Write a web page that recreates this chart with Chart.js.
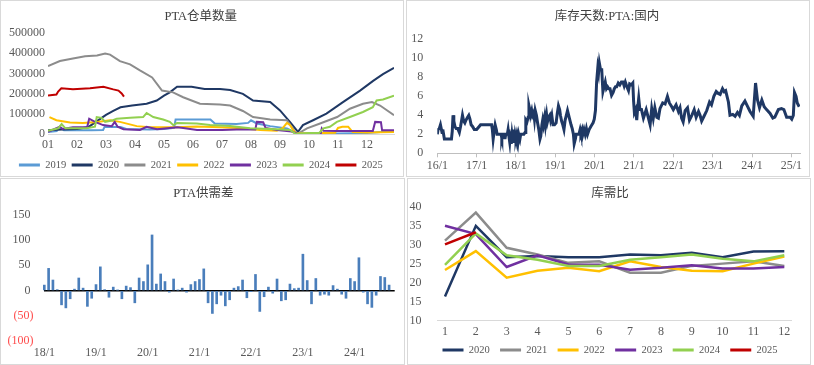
<!DOCTYPE html>
<html>
<head>
<meta charset="utf-8">
<script src="https://cdn.jsdelivr.net/npm/chart.js@4.4.1/dist/chart.umd.min.js"></script>
<style>
  html, body { margin: 0; padding: 0; background: #fff; }
  body { width: 814px; height: 365px; position: relative; overflow: hidden; }
  .frame { position: absolute; border: 1px solid #d9d9d9; box-sizing: border-box; }
  canvas { position: absolute; }
</style>
</head>
<body>
<div class="frame" style="left:0;top:0;width:404px;height:177px"></div>
<div class="frame" style="left:406px;top:0;width:404px;height:177px"></div>
<div class="frame" style="left:0;top:178px;width:405px;height:187px"></div>
<div class="frame" style="left:407px;top:178px;width:404px;height:187px"></div>

<canvas id="c1" width="404" height="181" style="left:0;top:0"></canvas>
<canvas id="c2" width="404" height="177" style="left:406px;top:0"></canvas>
<canvas id="c3" width="405" height="187" style="left:0;top:178px"></canvas>
<canvas id="c4" width="404" height="188" style="left:406px;top:178px"></canvas>

<script>
// ---------- panel 1: PTA仓单数量 (x = month of year, y = lots) ----------
const monthTicks = [1, 2, 3, 4, 5, 6, 7, 8, 9, 10, 11, 12];
const monthLabels = ["01", "02", "03", "04", "05", "06", "07", "08", "09", "10", "11", "12"];

const w2019 = [[1.00,10000],[1.30,15000],[1.40,35000],[1.55,18000],[2.00,18000],[2.50,18000],[2.90,20000],[2.95,35000],[3.50,35000],[3.70,25000],[4.50,22000],[5.00,25000],[5.35,30000],[5.40,72000],[6.60,72000],[6.75,52000],[7.50,50000],[7.90,55000],[8.00,68000],[8.20,52000],[8.66,39000],[9.24,28000],[9.55,5000],[10.00,2000],[11.00,3000],[12.00,5000],[12.93,15000]];
const w2020 = [[1.00,18000],[1.50,22000],[2.00,25000],[2.40,35000],[2.70,65000],[3.00,95000],[3.25,115000],[3.50,132000],[3.90,141000],[4.40,150000],[4.75,166000],[5.00,190000],[5.20,206000],[5.45,234000],[5.95,234000],[6.40,223000],[6.93,223000],[7.28,218000],[7.72,199000],[8.07,166000],[8.66,158000],[9.00,117000],[9.34,60000],[9.62,11000],[9.79,44000],[10.14,68000],[10.60,101000],[11.17,158000],[11.76,215000],[12.21,263000],[12.55,296000],[12.93,328000]];
const w2021 = [[1.00,336000],[1.41,361000],[1.86,374000],[2.28,385000],[2.69,389000],[2.97,398000],[3.14,393000],[3.48,361000],[3.83,345000],[4.17,315000],[4.59,280000],[4.93,215000],[5.31,206000],[5.66,182000],[6.24,150000],[6.93,146000],[7.28,141000],[7.72,114000],[8.07,84000],[8.66,72000],[9.24,68000],[9.52,11000],[9.62,2000],[9.93,28000],[10.38,52000],[10.97,84000],[11.41,125000],[11.86,150000],[12.17,158000],[12.45,141000],[12.93,93000]];
const w2022 = [[1.05,84000],[1.29,68000],[1.76,57000],[2.20,55000],[2.69,60000],[3.14,68000],[3.48,60000],[4.06,39000],[4.52,33000],[5.40,33000],[6.13,37000],[6.93,33000],[7.72,28000],[8.31,20000],[8.89,16000],[9.10,30000],[9.24,55000],[9.35,44000],[9.45,20000],[9.55,3000],[10.00,4000],[10.50,5000],[10.90,6000],[11.00,30000],[11.15,36000],[11.35,36000],[11.50,10000],[12.00,8000],[12.93,10000]];
const w2023 = [[1.00,11000],[1.41,36000],[1.50,25000],[1.86,33000],[2.35,33000],[2.42,76000],[2.62,60000],[2.90,44000],[3.20,39000],[3.30,60000],[3.40,36000],[3.60,24000],[4.17,20000],[4.40,36000],[4.76,24000],[5.45,33000],[5.66,30000],[6.14,20000],[7.00,20000],[7.50,22000],[8.15,22000],[8.20,60000],[8.42,58000],[8.50,30000],[8.90,20000],[9.40,12000],[9.60,0],[10.40,0],[10.44,28000],[10.50,16000],[11.00,15000],[12.20,15000],[12.28,60000],[12.48,58000],[12.52,18000],[12.93,18000]];
const w2024 = [[1.00,16000],[1.35,28000],[1.47,49000],[1.60,28000],[2.33,28000],[2.62,36000],[2.68,84000],[2.85,80000],[2.97,60000],[3.24,68000],[3.37,76000],[3.83,80000],[4.28,84000],[4.40,104000],[4.63,84000],[4.97,72000],[5.20,60000],[5.32,44000],[5.45,54000],[6.13,52000],[6.59,44000],[7.28,39000],[7.97,28000],[8.89,24000],[9.34,20000],[9.55,0],[10.00,5000],[10.35,5000],[10.50,28000],[10.72,36000],[10.96,60000],[11.41,84000],[11.86,109000],[12.20,133000],[12.33,166000],[12.55,171000],[12.93,190000]];
const w2025 = [[1.00,190000],[1.29,195000],[1.35,210000],[1.46,226000],[1.86,221000],[2.45,226000],[2.91,234000],[3.25,221000],[3.43,215000],[3.54,201000],[3.62,185000]];

// ---------- panel 2: 库存天数 (x = years after 2016/1, y = days) ----------
const yearTicks2 = [0, 1, 2, 3, 4, 5, 6, 7, 8, 9];
const yearLabels2 = ["16/1", "17/1", "18/1", "19/1", "20/1", "21/1", "22/1", "23/1", "24/1", "25/1"];
const stockDays = [[0.00,2.0],[0.02,2.5],[0.05,2.6],[0.08,3.0],[0.10,2.6],[0.12,2.2],[0.14,2.5],[0.16,2.0],[0.18,1.5],[0.36,1.5],[0.38,2.3],[0.40,4.0],[0.42,3.4],[0.45,2.8],[0.48,2.6],[0.52,2.6],[0.56,2.2],[0.59,2.8],[0.62,3.5],[0.64,4.0],[0.67,3.4],[0.70,3.2],[0.73,3.5],[0.77,3.8],[0.80,4.0],[0.83,3.6],[0.86,3.0],[0.90,2.8],[0.94,2.5],[1.00,2.5],[1.06,2.8],[1.10,3.0],[1.38,3.0],[1.40,2.5],[1.42,1.5],[1.45,2.5],[1.47,3.0],[1.50,2.5],[1.52,2.0],[1.62,2.0],[1.64,1.6],[1.66,2.0],[1.70,2.0],[1.72,1.5],[1.74,2.0],[1.78,2.0],[1.80,2.5],[1.82,1.8],[1.84,1.2],[1.86,2.3],[1.88,1.0],[1.90,2.0],[1.92,1.4],[1.94,2.5],[1.96,1.1],[1.98,2.0],[2.00,1.6],[2.02,2.0],[2.05,1.2],[2.07,2.0],[2.10,1.5],[2.12,2.0],[2.20,2.0],[2.23,2.2],[2.25,3.5],[2.28,3.3],[2.31,3.8],[2.33,5.0],[2.35,4.6],[2.37,4.0],[2.40,4.5],[2.42,4.0],[2.45,4.3],[2.47,3.6],[2.49,4.5],[2.52,4.0],[2.55,3.2],[2.58,2.5],[2.61,1.5],[2.63,1.8],[2.66,3.0],[2.68,3.5],[2.70,3.0],[2.73,3.8],[2.75,3.0],[2.78,4.0],[2.80,3.3],[2.83,3.8],[2.86,4.0],[2.88,3.5],[2.91,4.0],[2.94,3.0],[2.98,3.0],[3.02,3.2],[3.05,4.2],[3.08,5.0],[3.11,4.6],[3.13,4.0],[3.16,3.4],[3.19,3.0],[3.22,2.5],[3.25,3.5],[3.28,4.0],[3.31,4.5],[3.34,4.0],[3.37,3.5],[3.40,3.0],[3.43,2.6],[3.46,2.0],[3.48,1.0],[3.51,1.5],[3.53,2.0],[3.60,2.0],[3.63,2.5],[3.65,2.1],[3.68,2.5],[3.70,2.0],[3.73,2.5],[3.76,2.0],[3.79,2.6],[3.82,2.0],[3.86,2.5],[3.90,2.8],[3.93,3.0],[3.96,3.2],[3.99,3.6],[4.02,4.5],[4.05,7.5],[4.08,9.0],[4.10,8.5],[4.12,9.5],[4.15,8.8],[4.18,8.8],[4.21,6.5],[4.24,7.0],[4.27,7.5],[4.30,6.8],[4.33,7.0],[4.36,6.8],[4.39,6.8],[4.43,6.1],[4.47,6.4],[4.50,6.8],[4.53,7.0],[4.56,7.0],[4.60,7.4],[4.64,7.2],[4.68,7.5],[4.72,7.5],[4.75,7.1],[4.78,7.5],[4.82,7.0],[4.86,6.6],[4.89,7.3],[4.93,7.2],[4.97,7.4],[4.99,5.5],[5.01,4.3],[5.04,4.6],[5.07,3.5],[5.09,4.6],[5.12,5.8],[5.15,4.6],[5.19,4.6],[5.24,3.7],[5.31,4.6],[5.36,3.8],[5.41,3.0],[5.45,4.7],[5.49,3.7],[5.53,4.8],[5.58,3.8],[5.62,3.7],[5.66,4.7],[5.73,5.3],[5.79,5.2],[5.85,6.0],[5.90,5.3],[5.96,4.9],[6.00,4.6],[6.07,5.1],[6.13,4.4],[6.17,4.8],[6.21,3.7],[6.25,3.3],[6.30,4.5],[6.36,4.8],[6.41,3.5],[6.47,4.0],[6.53,4.6],[6.58,3.8],[6.64,4.4],[6.68,4.0],[6.72,3.4],[6.78,3.9],[6.85,4.5],[6.92,5.4],[6.97,5.1],[7.03,6.0],[7.09,6.5],[7.14,6.3],[7.19,6.2],[7.25,6.8],[7.29,6.5],[7.33,6.6],[7.40,5.4],[7.44,4.0],[7.51,4.1],[7.57,3.9],[7.63,4.3],[7.68,4.0],[7.74,5.0],[7.82,5.5],[7.88,5.0],[7.95,4.4],[8.03,3.9],[8.09,7.4],[8.14,5.6],[8.19,4.8],[8.25,5.6],[8.31,4.9],[8.37,4.6],[8.46,4.2],[8.53,3.7],[8.58,3.8],[8.67,4.6],[8.75,4.7],[8.81,4.6],[8.88,3.8],[8.97,3.8],[9.01,3.6],[9.05,4.0],[9.08,6.4],[9.12,6.0],[9.15,5.3],[9.20,4.9]];

// ---------- panel 3: PTA供需差 (monthly, index 0 = 2018/1) ----------
const yearTicks3 = [0, 12, 24, 36, 48, 60, 72];
const yearLabels3 = ["18/1", "19/1", "20/1", "21/1", "22/1", "23/1", "24/1"];
const supplyGap = [11, 44, 21, 2, -28, -34, -16, 3, 25, 5, -31, -15,
                   12, 47, 2, -13, 7, 1, -16, 9, 6, -24, 25, 18,
                   51, 110, 13, 33, 18, -3, 23, 1, 5, -3, 12, 18,
                   22, 43, -24, -45, -26, -9, -30, -18, 5, 8, 21, -14,
                   -2, 32, -41, -12, 7, -5, 23, -20, -18, 13, 4, 5,
                   72, 20, -26, 24, -9, -7, -9, 10, 3, -7, -15, 24,
                   18, 65, -3, -26, -33, -9, 28, 26, 11];

// ---------- panel 4: 库需比 ----------
const monthTicks4 = [1, 2, 3, 4, 5, 6, 7, 8, 9, 10, 11, 12];
const monthLabels4 = ["1", "2", "3", "4", "5", "6", "7", "8", "9", "10", "11", "12"];
const r2020 = [16.4, 35.1, 26.8, 27.1, 26.8, 26.8, 27.5, 27.3, 28.0, 26.8, 28.3, 28.4];
const r2021 = [31.2, 38.6, 29.3, 27.5, 25.3, 25.7, 22.7, 22.7, 24.5, 25.1, 25.7, 24.5];
const r2022 = [23.4, 28.4, 21.4, 23.2, 24.0, 23.1, 25.7, 24.2, 23.2, 23.1, 25.1, 27.0];
const r2023 = [35.1, 32.9, 24.2, 27.3, 24.9, 24.8, 23.5, 24.0, 24.7, 23.8, 23.8, 24.2];
const r2024 = [24.8, 33.1, 27.3, 26.1, 24.5, 24.5, 26.1, 26.8, 27.5, 26.4, 25.7, 27.3];
const r2025 = [30.2, 33.4];

const colors = {
  "2019": "#5b9bd5", "2020": "#1f3864", "2021": "#8c8c8c", "2022": "#ffc000",
  "2023": "#7030a0", "2024": "#92d050", "2025": "#c00000"
};

Chart.defaults.font.family = "'Liberation Serif', 'Noto Sans CJK SC', serif";
Chart.defaults.font.size = 12;
Chart.defaults.color = "#595959";
Chart.defaults.animation = false;
Chart.defaults.responsive = false;
Chart.defaults.plugins.tooltip.enabled = false;

// tick labels sit outside the (narrow) scale boxes here, so don't clip them
Chart.register({
  id: "noLabelClip",
  beforeDraw(chart) {
    Object.values(chart.scales).forEach(s => { s._computeLabelArea = () => undefined; });
  }
});

const toXY = arr => arr.map(p => ({ x: p[0], y: p[1] }));
const titleOpts = (text, top, bottom) => ({
  display: true, text: text, color: "#404040",
  font: { size: 12.5, weight: "normal" }, padding: { top: top, bottom: bottom }
});
const legendOpts = (pad) => ({
  position: "bottom",
  labels: {
    usePointStyle: true, pointStyle: "line", pointStyleWidth: 21,
    font: { size: 10.5 }, padding: pad, color: "#595959",
    sort: (a, b) => a.datasetIndex - b.datasetIndex,
    generateLabels: ch => Chart.defaults.plugins.legend.labels.generateLabels(ch)
      .map(it => Object.assign(it, { lineWidth: 3 }))
  }
});
const fixedTicks = (vals) => (axis) => { axis.ticks = vals.map(v => ({ value: v })); };

// panel 1
const p1 = [["2019", w2019], ["2020", w2020], ["2021", w2021], ["2022", w2022], ["2023", w2023], ["2024", w2024], ["2025", w2025]];
new Chart(document.getElementById("c1"), {
  type: "line",
  data: {
    datasets: p1.map((s, i) => ({
      label: s[0], data: toXY(s[1]), borderColor: colors[s[0]], backgroundColor: colors[s[0]],
      borderWidth: 2, pointRadius: 0, order: p1.length - i
    }))
  },
  options: {
    devicePixelRatio: 1,
    layout: { padding: { left: 7.6, right: 10, top: 0, bottom: 0.7 } },
    plugins: { title: titleOpts("PTA仓单数量", 9.5, 8.5), legend: legendOpts(5.5) },
    scales: {
      x: {
        type: "linear", min: 1, max: 12.93, afterBuildTicks: fixedTicks(monthTicks),
        ticks: { callback: (v, i) => monthLabels[i], padding: 3.8, maxRotation: 0, autoSkip: false },
        grid: { display: false, drawTicks: false }, border: { display: true, color: "#d9d9d9" },
        afterFit: s => { s.height = 20.3; }
      },
      y: {
        min: 0, max: 500000,
        ticks: { stepSize: 100000, callback: v => String(v), padding: 3 },
        grid: { display: false, drawTicks: false }, border: { display: false },
        afterFit: s => { s.width = 40.4; }
      }
    }
  }
});

// panel 2
new Chart(document.getElementById("c2"), {
  type: "line",
  data: {
    datasets: [{ label: "库存天数:PTA:国内", data: toXY(stockDays), borderColor: "#1f3864", borderWidth: 3, pointRadius: 0 }]
  },
  options: {
    devicePixelRatio: 1,
    layout: { padding: { left: 8, right: 10, top: 0, bottom: 0 } },
    plugins: { title: titleOpts("库存天数:PTA:国内", 9.5, 14.8), legend: { display: false } },
    scales: {
      x: {
        type: "linear", min: 0, max: 9.22, afterBuildTicks: fixedTicks(yearTicks2),
        ticks: { callback: (v, i) => yearLabels2[i], padding: 1.5, maxRotation: 0, autoSkip: false },
        grid: { display: true, drawOnChartArea: false, drawTicks: true, tickLength: 4, color: "#bfbfbf" },
        border: { display: true, color: "#bfbfbf" },
        afterFit: s => { s.height = 23.7; }
      },
      y: {
        min: 0, max: 12,
        ticks: { stepSize: 2, padding: 14 },
        grid: { display: false, drawTicks: false }, border: { display: false },
        afterFit: s => { s.width = 23.3; }
      }
    }
  }
});

// panel 3
new Chart(document.getElementById("c3"), {
  type: "bar",
  data: {
    datasets: [{
      label: "PTA供需差", data: supplyGap.map((v, i) => ({ x: i, y: v })),
      backgroundColor: "#4a7ebb", barThickness: 2, clip: false
    }]
  },
  options: {
    devicePixelRatio: 1,
    layout: { padding: { left: 12, right: 10.3, top: 0, bottom: 0 } },
    plugins: { title: titleOpts("PTA供需差", 8.2, 13.5), legend: { display: false } },
    scales: {
      x: {
        type: "linear", min: 0, max: 81.3, offset: false, afterBuildTicks: fixedTicks(yearTicks3),
        ticks: { callback: (v, i) => yearLabels3[i], padding: 4.5, maxRotation: 0, autoSkip: false },
        grid: { display: false, drawTicks: false }, border: { display: false },
        afterFit: s => { s.height = 23.7; }
      },
      y: {
        min: -100, max: 150,
        ticks: {
          stepSize: 50, padding: 10.8,
          callback: v => v < 0 ? "(" + (-v) + ")" : v + " ",
          color: c => c.tick.value < 0 ? "#ff4b4b" : "#595959"
        },
        grid: {
          drawTicks: false, lineWidth: 1.5,
          color: c => c.tick && c.tick.value === 0 ? "#000000" : "rgba(0,0,0,0)"
        },
        border: { display: false },
        afterFit: s => { s.width = 32.3; }
      }
    }
  }
});

// panel 4
const p4 = [["2020", r2020], ["2021", r2021], ["2022", r2022], ["2023", r2023], ["2024", r2024], ["2025", r2025]];
new Chart(document.getElementById("c4"), {
  type: "line",
  data: {
    datasets: p4.map((s, i) => ({
      label: s[0], data: s[1].map((v, k) => ({ x: monthTicks4[k], y: v })),
      borderColor: colors[s[0]], backgroundColor: colors[s[0]],
      borderWidth: 2.5, pointRadius: 0, order: p4.length - i
    }))
  },
  options: {
    devicePixelRatio: 1,
    layout: { padding: { left: 22.6, right: 18.6, top: 0, bottom: 0.75 } },
    plugins: { title: titleOpts("库需比", 8.2, 6.1), legend: legendOpts(10.3) },
    scales: {
      x: {
        type: "linear", min: 0.77, max: 12.23, afterBuildTicks: fixedTicks(monthTicks4),
        ticks: { callback: (v, i) => monthLabels4[i], padding: 4.1, maxRotation: 0, autoSkip: false },
        grid: { display: false, drawTicks: false }, border: { display: true, color: "#d9d9d9" },
        afterFit: s => { s.height = 13.75; }
      },
      y: {
        min: 10, max: 40,
        ticks: { stepSize: 5, padding: 16.4 },
        grid: { display: false, drawTicks: false }, border: { display: false },
        afterFit: s => { s.width = 9.3; }
      }
    }
  }
});
</script>
</body>
</html>
